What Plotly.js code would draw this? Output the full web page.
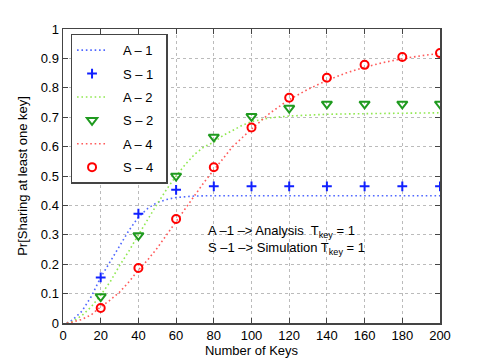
<!DOCTYPE html>
<html>
<head>
<meta charset="utf-8">
<script src="https://cdn.plot.ly/plotly-3.0.1.min.js"></script>
<style>html,body{margin:0;padding:0;background:#fff;}#chart{width:485px;height:364px;}</style>
</head>
<body>
<div id="chart"></div>
<script>
// Analysis curves
const xA1 = [2,5,10,15,20,25,30,35,40,45,50,55,60,65,70,80,100,120,140,160,180,200];
const yA1 = [0,0.01,0.04,0.09,0.155,0.21,0.265,0.315,0.36,0.39,0.41,0.42,0.427,0.43,0.432,0.433,0.433,0.433,0.433,0.433,0.433,0.433];
const xA2 = [2,5,10,15,20,25,30,35,40,45,50,55,60,65,70,75,80,85,90,95,100,110,120,130,140,160,180,200];
const yA2 = [0,0.005,0.025,0.055,0.095,0.14,0.195,0.245,0.3,0.355,0.405,0.455,0.5,0.54,0.575,0.6,0.615,0.638,0.655,0.672,0.685,0.698,0.704,0.708,0.71,0.712,0.714,0.715];
const xA4 = [2,5,10,15,20,25,30,35,40,45,50,55,60,65,70,75,80,85,90,95,100,110,120,130,140,150,160,170,180,190,200];
const yA4 = [0,0.003,0.012,0.028,0.055,0.078,0.105,0.14,0.18,0.215,0.255,0.3,0.345,0.39,0.435,0.48,0.52,0.56,0.6,0.63,0.66,0.715,0.76,0.795,0.825,0.85,0.87,0.886,0.899,0.909,0.917];
// Simulation points
const xS = [20,40,60,80,100,120,140,160,180,200];
const yS1 = [0.155,0.372,0.453,0.465,0.465,0.465,0.465,0.465,0.465,0.465];
const yS2 = [0.09,0.298,0.5,0.633,0.703,0.731,0.745,0.745,0.745,0.745];
const yS4 = [0.051,0.187,0.354,0.53,0.665,0.766,0.834,0.878,0.905,0.918];
const names = ['A – 1','S – 1','A – 2','S – 2','A – 4','S – 4'];
const xTicks = [0,20,40,60,80,100,120,140,160,180,200];
const yTicks = [0,0.1,0.2,0.3,0.4,0.5,0.6,0.7,0.8,0.9,1];

const pad = '&nbsp;&nbsp;&nbsp;';
const lineTrace = (x,y,name,color,g) => ({x,y,name:pad+name+'&nbsp;&nbsp;',mode:'lines',type:'scatter',legendgroup:g,
  line:{color,width:1.6,dash:'1.6px,2.8px'}});
const markTrace = (x,y,name,color,sym,size,g) => ({x,y,name:pad+name+'&nbsp;&nbsp;',mode:'markers',type:'scatter',legendgroup:g,
  marker:{symbol:sym,size,color,line:{color,width:2}}});

const data = [
  lineTrace(xA1,yA1,names[0],'#5068ff','g1'),
  markTrace(xS,yS1,names[1],'#1020ff','cross-thin-open',7,'g2'),
  lineTrace(xA2,yA2,names[2],'#90e850','g3'),
  markTrace(xS,yS2,names[3],'#1f9a1f','triangle-down-open',9,'g4'),
  lineTrace(xA4,yA4,names[4],'#ff5a5a','g5'),
  markTrace(xS,yS4,names[5],'#ff0000','circle-open',8,'g6')
];

const axFont = {family:'Liberation Sans, Arial, sans-serif',size:13,color:'#000'};
const layout = {
  width:485,height:364,
  margin:{l:63,r:45,t:29,b:41},
  paper_bgcolor:'#fff',plot_bgcolor:'#fff',
  font:axFont,
  showlegend:true,
  legend:{x:0.02,y:0.984,xanchor:'left',yanchor:'top',bgcolor:'#fff',bordercolor:'#444',borderwidth:1.5,
    font:{family:'Liberation Sans, Arial, sans-serif',size:13,color:'#000'},tracegroupgap:3.5,traceorder:'grouped'},
  xaxis:{range:[0,200],tickvals:xTicks,ticktext:xTicks.map(String),ticks:'inside',ticklen:5,tickcolor:'#444',
    showline:true,linecolor:'#444',linewidth:1.5,mirror:'ticks',showgrid:true,gridcolor:'#bbb',griddash:'dot',gridwidth:1,
    zeroline:false,tickfont:axFont,title:{text:'Number of Keys',font:axFont,standoff:3}},
  yaxis:{range:[0,1],tickvals:yTicks,ticktext:yTicks.map(String),ticks:'inside',ticklen:5,tickcolor:'#444',
    showline:true,linecolor:'#444',linewidth:1.5,mirror:'ticks',showgrid:true,gridcolor:'#bbb',griddash:'dot',gridwidth:1,
    zeroline:false,tickfont:axFont,title:{text:'Pr[Sharing at least one key]',font:axFont,standoff:10}},
  annotations:[
    {xref:'x',yref:'y',x:75.6,y:0.31,xanchor:'left',yanchor:'middle',showarrow:false,
     text:'A –1 –> Analysis  T<sub>key</sub> = 1',font:axFont},
    {xref:'x',yref:'y',x:75.6,y:0.255,xanchor:'left',yanchor:'middle',showarrow:false,
     text:'S –1 –> Simulation T<sub>key</sub> = 1',font:axFont}
  ]
};
Plotly.newPlot('chart',data,layout,{displayModeBar:false,staticPlot:true});
</script>
</body>
</html>
